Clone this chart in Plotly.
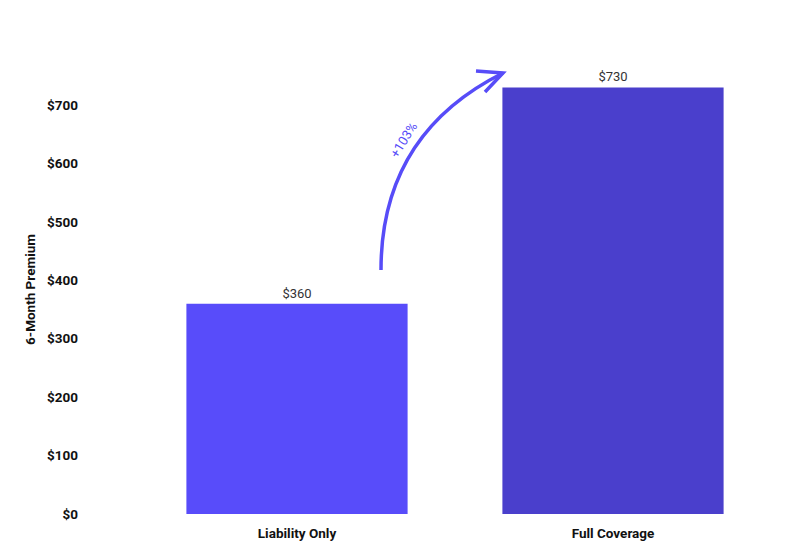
import plotly.graph_objects as go

categories = ["Liability Only", "Full Coverage"]
premiums = [360, 730]
value_labels = ["$360", "$730"]
bar_colors = ["#584CFA", "#4A3FCC"]
tick_vals = [0, 100, 200, 300, 400, 500, 600, 700]
tick_text = ["$0", "$100", "$200", "$300", "$400", "$500", "$600", "$700"]
change_label = "+103%"

W, H = 800, 551
OFF = 8  # page body offset in the screenshot
ML, MR, MT, MB = 131, 37, 57, 45
pw, ph = W - ML - MR, H - MT - MB

def px(x):
    return (x - OFF - ML) / pw

def py(y):
    return (H - MB - (y - OFF)) / ph

fig = go.Figure()
fig.add_trace(go.Bar(
    x=categories, y=premiums, marker=dict(color=bar_colors, line=dict(width=0)),
    text=value_labels, textposition="outside",
    textfont=dict(family="Roboto", size=13, color="#333333"),
    cliponaxis=False, width=0.7,
))

arrow_color = "#574CF8"
s = (px(381), py(270)); c = (px(381), py(134)); e = (px(503), py(73))
curve = f"M {s[0]},{s[1]} Q {c[0]},{c[1]} {e[0]},{e[1]}"
head = f"M {px(476)},{py(71)} L {e[0]},{e[1]} L {px(485)},{py(92)}"

bold = dict(family="Roboto", size=13.5, color="#111111", weight="bold")

fig.update_layout(
    width=W, height=H,
    margin=dict(l=ML, r=MR, t=MT, b=MB),
    plot_bgcolor="white", paper_bgcolor="white",
    showlegend=False,
    font=dict(family="Roboto", size=13, color="#111111"),
    xaxis=dict(showgrid=False, showline=False, zeroline=False, ticks="",
               tickfont=bold, ticklabelstandoff=9),
    yaxis=dict(range=[0, 768.4], tickvals=tick_vals, ticktext=tick_text,
               showgrid=False, showline=False, zeroline=False, ticks="",
               tickfont=bold, ticklabelstandoff=60,
               title=dict(text="6-Month Premium", standoff=8, font=bold)),
    shapes=[
        dict(type="path", path=curve, xref="paper", yref="paper",
             line=dict(color=arrow_color, width=3.5), layer="above"),
        dict(type="path", path=head, xref="paper", yref="paper",
             line=dict(color=arrow_color, width=3.5), layer="above"),
    ],
    annotations=[
        dict(text=change_label, x=px(403), y=py(140), xref="paper", yref="paper",
             xanchor="center", yanchor="middle",
             showarrow=False, textangle=-58,
             font=dict(family="Roboto", size=13, color=arrow_color)),
    ],
)

fig.write_html("out.html")
